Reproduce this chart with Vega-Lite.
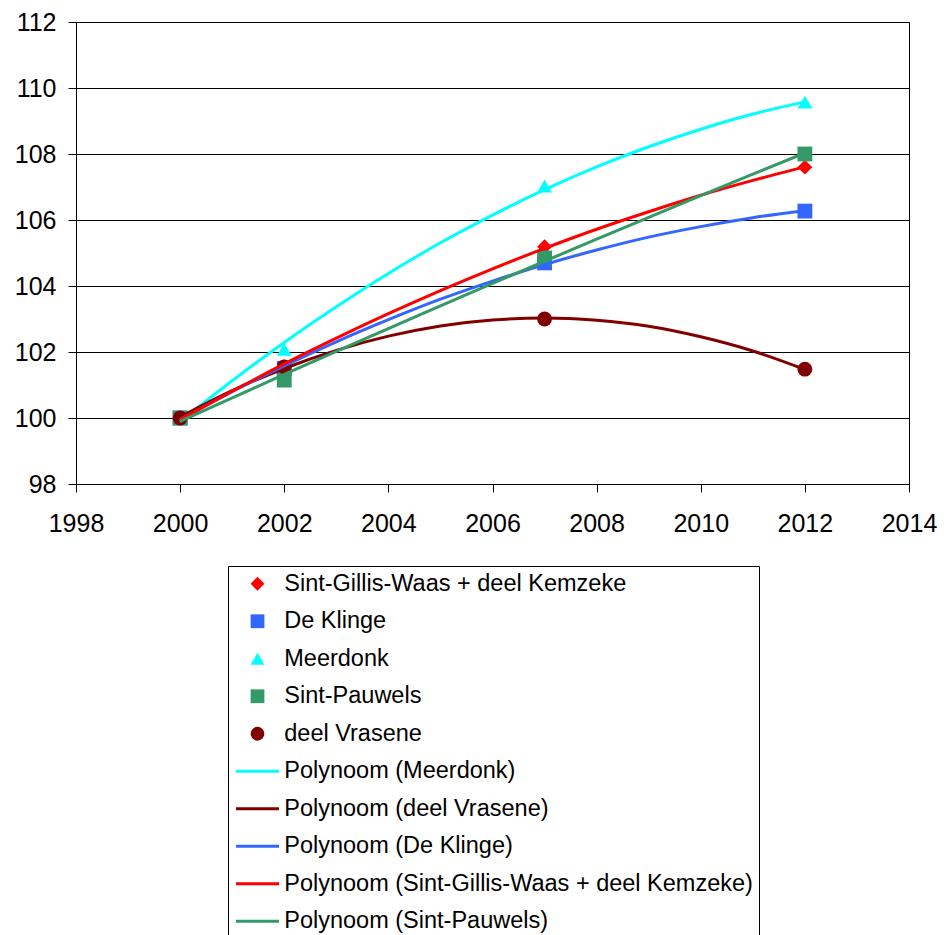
{
  "$schema": "https://vega.github.io/schema/vega-lite/v6.json",
  "width": 833,
  "height": 462,
  "autosize": {"type": "none"},
  "padding": {"left": 76, "top": 22, "right": 39, "bottom": 451},
  "background": "white",
  "datasets": {
    "points": [
      {"series": "Sint-Gillis-Waas + deel Kemzeke", "year": 2000, "value": 100},
      {"series": "Sint-Gillis-Waas + deel Kemzeke", "year": 2002, "value": 101.55},
      {"series": "Sint-Gillis-Waas + deel Kemzeke", "year": 2007, "value": 105.19},
      {"series": "Sint-Gillis-Waas + deel Kemzeke", "year": 2012, "value": 107.6},
      {"series": "De Klinge", "year": 2000, "value": 100},
      {"series": "De Klinge", "year": 2002, "value": 101.5},
      {"series": "De Klinge", "year": 2007, "value": 104.7},
      {"series": "De Klinge", "year": 2012, "value": 106.27},
      {"series": "Meerdonk", "year": 2000, "value": 100},
      {"series": "Meerdonk", "year": 2002, "value": 102.08},
      {"series": "Meerdonk", "year": 2007, "value": 107.03},
      {"series": "Meerdonk", "year": 2012, "value": 109.57},
      {"series": "Sint-Pauwels", "year": 2000, "value": 100},
      {"series": "Sint-Pauwels", "year": 2002, "value": 101.15},
      {"series": "Sint-Pauwels", "year": 2007, "value": 104.85},
      {"series": "Sint-Pauwels", "year": 2012, "value": 108.0},
      {"series": "deel Vrasene", "year": 2000, "value": 100},
      {"series": "deel Vrasene", "year": 2002, "value": 101.55},
      {"series": "deel Vrasene", "year": 2007, "value": 103.0},
      {"series": "deel Vrasene", "year": 2012, "value": 101.48}
    ],
    "trends": [
      {"series": "Polynoom (Meerdonk)", "year": 2000, "value": 99.89},
      {"series": "Polynoom (Meerdonk)", "year": 2001, "value": 101.13},
      {"series": "Polynoom (Meerdonk)", "year": 2002, "value": 102.29},
      {"series": "Polynoom (Meerdonk)", "year": 2003, "value": 103.37},
      {"series": "Polynoom (Meerdonk)", "year": 2004, "value": 104.38},
      {"series": "Polynoom (Meerdonk)", "year": 2005, "value": 105.31},
      {"series": "Polynoom (Meerdonk)", "year": 2006, "value": 106.15},
      {"series": "Polynoom (Meerdonk)", "year": 2007, "value": 106.92},
      {"series": "Polynoom (Meerdonk)", "year": 2008, "value": 107.61},
      {"series": "Polynoom (Meerdonk)", "year": 2009, "value": 108.22},
      {"series": "Polynoom (Meerdonk)", "year": 2010, "value": 108.75},
      {"series": "Polynoom (Meerdonk)", "year": 2011, "value": 109.21},
      {"series": "Polynoom (Meerdonk)", "year": 2012, "value": 109.58},
      {"series": "Polynoom (deel Vrasene)", "year": 2000, "value": 100.03},
      {"series": "Polynoom (deel Vrasene)", "year": 2001, "value": 100.83},
      {"series": "Polynoom (deel Vrasene)", "year": 2002, "value": 101.5},
      {"series": "Polynoom (deel Vrasene)", "year": 2003, "value": 102.05},
      {"series": "Polynoom (deel Vrasene)", "year": 2004, "value": 102.48},
      {"series": "Polynoom (deel Vrasene)", "year": 2005, "value": 102.79},
      {"series": "Polynoom (deel Vrasene)", "year": 2006, "value": 102.97},
      {"series": "Polynoom (deel Vrasene)", "year": 2007, "value": 103.03},
      {"series": "Polynoom (deel Vrasene)", "year": 2008, "value": 102.96},
      {"series": "Polynoom (deel Vrasene)", "year": 2009, "value": 102.78},
      {"series": "Polynoom (deel Vrasene)", "year": 2010, "value": 102.46},
      {"series": "Polynoom (deel Vrasene)", "year": 2011, "value": 102.03},
      {"series": "Polynoom (deel Vrasene)", "year": 2012, "value": 101.47},
      {"series": "Polynoom (De Klinge)", "year": 2000, "value": 99.95},
      {"series": "Polynoom (De Klinge)", "year": 2001, "value": 100.8},
      {"series": "Polynoom (De Klinge)", "year": 2002, "value": 101.58},
      {"series": "Polynoom (De Klinge)", "year": 2003, "value": 102.31},
      {"series": "Polynoom (De Klinge)", "year": 2004, "value": 102.98},
      {"series": "Polynoom (De Klinge)", "year": 2005, "value": 103.6},
      {"series": "Polynoom (De Klinge)", "year": 2006, "value": 104.15},
      {"series": "Polynoom (De Klinge)", "year": 2007, "value": 104.65},
      {"series": "Polynoom (De Klinge)", "year": 2008, "value": 105.09},
      {"series": "Polynoom (De Klinge)", "year": 2009, "value": 105.48},
      {"series": "Polynoom (De Klinge)", "year": 2010, "value": 105.8},
      {"series": "Polynoom (De Klinge)", "year": 2011, "value": 106.07},
      {"series": "Polynoom (De Klinge)", "year": 2012, "value": 106.28},
      {"series": "Polynoom (Sint-Gillis-Waas + deel Kemzeke)", "year": 2000, "value": 99.95},
      {"series": "Polynoom (Sint-Gillis-Waas + deel Kemzeke)", "year": 2001, "value": 100.81},
      {"series": "Polynoom (Sint-Gillis-Waas + deel Kemzeke)", "year": 2002, "value": 101.64},
      {"series": "Polynoom (Sint-Gillis-Waas + deel Kemzeke)", "year": 2003, "value": 102.42},
      {"series": "Polynoom (Sint-Gillis-Waas + deel Kemzeke)", "year": 2004, "value": 103.16},
      {"series": "Polynoom (Sint-Gillis-Waas + deel Kemzeke)", "year": 2005, "value": 103.86},
      {"series": "Polynoom (Sint-Gillis-Waas + deel Kemzeke)", "year": 2006, "value": 104.52},
      {"series": "Polynoom (Sint-Gillis-Waas + deel Kemzeke)", "year": 2007, "value": 105.14},
      {"series": "Polynoom (Sint-Gillis-Waas + deel Kemzeke)", "year": 2008, "value": 105.72},
      {"series": "Polynoom (Sint-Gillis-Waas + deel Kemzeke)", "year": 2009, "value": 106.25},
      {"series": "Polynoom (Sint-Gillis-Waas + deel Kemzeke)", "year": 2010, "value": 106.75},
      {"series": "Polynoom (Sint-Gillis-Waas + deel Kemzeke)", "year": 2011, "value": 107.2},
      {"series": "Polynoom (Sint-Gillis-Waas + deel Kemzeke)", "year": 2012, "value": 107.61},
      {"series": "Polynoom (Sint-Pauwels)", "year": 2000, "value": 99.9},
      {"series": "Polynoom (Sint-Pauwels)", "year": 2001, "value": 100.61},
      {"series": "Polynoom (Sint-Pauwels)", "year": 2002, "value": 101.32},
      {"series": "Polynoom (Sint-Pauwels)", "year": 2003, "value": 102.02},
      {"series": "Polynoom (Sint-Pauwels)", "year": 2004, "value": 102.71},
      {"series": "Polynoom (Sint-Pauwels)", "year": 2005, "value": 103.4},
      {"series": "Polynoom (Sint-Pauwels)", "year": 2006, "value": 104.08},
      {"series": "Polynoom (Sint-Pauwels)", "year": 2007, "value": 104.75},
      {"series": "Polynoom (Sint-Pauwels)", "year": 2008, "value": 105.42},
      {"series": "Polynoom (Sint-Pauwels)", "year": 2009, "value": 106.08},
      {"series": "Polynoom (Sint-Pauwels)", "year": 2010, "value": 106.74},
      {"series": "Polynoom (Sint-Pauwels)", "year": 2011, "value": 107.39},
      {"series": "Polynoom (Sint-Pauwels)", "year": 2012, "value": 108.03}
    ]
  },
  "encoding": {
    "x": {
      "field": "year",
      "type": "quantitative",
      "scale": {"domain": [1998, 2014], "nice": false, "zero": false},
      "axis": {
        "title": null,
        "values": [1998, 2000, 2002, 2004, 2006, 2008, 2010, 2012, 2014],
        "format": "d",
        "grid": false,
        "tickSize": 8,
        "labelPadding": 19,
        "labelFontSize": 25,
        "labelFlush": false,
        "labelOverlap": false
      }
    },
    "y": {
      "field": "value",
      "type": "quantitative",
      "scale": {"domain": [98, 112], "nice": false, "zero": false},
      "axis": {
        "title": null,
        "values": [98, 100, 102, 104, 106, 108, 110, 112],
        "grid": true,
        "tickSize": 8,
        "labelPadding": 12,
        "labelFontSize": 25,
        "labelFlush": false,
        "labelOverlap": false
      }
    }
  },
  "layer": [
    {
      "data": {"name": "points"},
      "mark": {"type": "point", "filled": true, "size": 220, "opacity": 1, "strokeWidth": 0},
      "encoding": {
        "color": {
          "field": "series",
          "type": "nominal",
          "scale": {
            "domain": ["Sint-Gillis-Waas + deel Kemzeke", "De Klinge", "Meerdonk", "Sint-Pauwels", "deel Vrasene", "Polynoom (Meerdonk)", "Polynoom (deel Vrasene)", "Polynoom (De Klinge)", "Polynoom (Sint-Gillis-Waas + deel Kemzeke)", "Polynoom (Sint-Pauwels)"],
            "range": ["#FF0000", "#3366FF", "#00FFFF", "#339966", "#800000", "#00FFFF", "#800000", "#3366FF", "#FF0000", "#339966"]
          },
          "legend": {
            "title": null,
            "orient": "none",
            "legendX": 152,
            "legendY": 544,
            "padding": 6,
            "strokeColor": "#000000",
            "fillColor": "white",
            "symbolSize": 190,
            "symbolStrokeWidth": 0,
            "symbolOffset": 11.75,
            "labelOffset": 15,
            "labelFontSize": 23.5,
            "labelFont": "Liberation Sans",
            "labelColor": "#000000",
            "labelLimit": 800,
            "rowPadding": 12.5
          }
        },
        "shape": {
          "field": "series",
          "type": "nominal",
          "scale": {
            "domain": ["Sint-Gillis-Waas + deel Kemzeke", "De Klinge", "Meerdonk", "Sint-Pauwels", "deel Vrasene", "Polynoom (Meerdonk)", "Polynoom (deel Vrasene)", "Polynoom (De Klinge)", "Polynoom (Sint-Gillis-Waas + deel Kemzeke)", "Polynoom (Sint-Pauwels)"],
            "range": ["diamond", "square", "triangle-up", "square", "circle", "M-3.12,-0.22H3.12V0.22H-3.12Z", "M-3.12,-0.22H3.12V0.22H-3.12Z", "M-3.12,-0.22H3.12V0.22H-3.12Z", "M-3.12,-0.22H3.12V0.22H-3.12Z", "M-3.12,-0.22H3.12V0.22H-3.12Z"]
          },
          "legend": {
            "title": null,
            "orient": "none",
            "legendX": 152,
            "legendY": 544,
            "padding": 6,
            "strokeColor": "#000000",
            "fillColor": "white",
            "symbolSize": 190,
            "symbolStrokeWidth": 0,
            "symbolOffset": 11.75,
            "labelOffset": 15,
            "labelFontSize": 23.5,
            "labelFont": "Liberation Sans",
            "labelColor": "#000000",
            "labelLimit": 800,
            "rowPadding": 12.5
          }
        }
      }
    },
    {
      "data": {"name": "trends"},
      "mark": {"type": "line", "strokeWidth": 3, "interpolate": "monotone"},
      "encoding": {
        "color": {"field": "series", "type": "nominal", "legend": null},
        "detail": {"field": "series"}
      }
    }
  ],
  "config": {
    "font": "Liberation Sans",
    "view": {"stroke": "#000000", "strokeWidth": 1},
    "axis": {
      "labelFont": "Liberation Sans",
      "labelColor": "#000000",
      "domainColor": "#000000",
      "tickColor": "#000000",
      "gridColor": "#000000",
      "gridOpacity": 1,
      "domainWidth": 1,
      "tickWidth": 1,
      "gridWidth": 1
    }
  }
}
